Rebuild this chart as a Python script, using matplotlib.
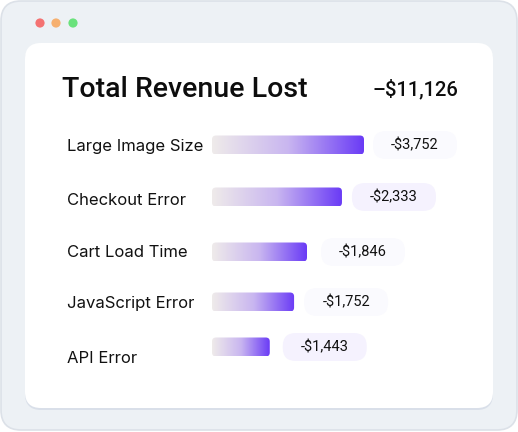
import numpy as np
import matplotlib.pyplot as plt
from matplotlib.patches import FancyBboxPatch, Circle
from matplotlib.colors import LinearSegmentedColormap

# data
categories = ['Large Image Size', 'Checkout Error', 'Cart Load Time',
              'JavaScript Error', 'API Error']
losses = [3752, 2333, 1846, 1752, 1443]
bar_share = [100, 85.5, 62.5, 54, 38]   # bar length, % of longest bar
total_lost = 11126
title = 'Total Revenue Lost'

W, H = 518, 432
fig = plt.figure(figsize=(W / 100, H / 100), dpi=100)
ax = fig.add_axes([0, 0, 1, 1])
ax.set_xlim(0, W)
ax.set_ylim(H, 0)
ax.axis('off')

# window frame
ax.add_patch(FancyBboxPatch((1, 1), W - 2, H - 3, boxstyle='round,pad=0,rounding_size=20',
                            fc='#edf1f5', ec='#dce1e8', lw=1.2))
for x, c in zip([40, 56, 73], ['#f47272', '#f6b070', '#6ae27c']):
    ax.add_patch(Circle((x, 23), 4.6, color=c, lw=0))

# card + soft shadow
ax.add_patch(FancyBboxPatch((25, 45), 468, 365, boxstyle='round,pad=0,rounding_size=16',
                            fc='#d9dfe9', ec='none'))
ax.add_patch(FancyBboxPatch((25, 43), 468, 365, boxstyle='round,pad=0,rounding_size=16',
                            fc='white', ec='none'))

ax.text(62, 97, title, fontsize=20.5, family='Roboto', weight='medium',
        va='baseline', ha='left', color='#0d0d0d')
ax.text(458, 95, f'–${total_lost:,}', fontsize=14.5, family='Roboto', weight='medium',
        va='baseline', ha='right', color='#0d0d0d')

cmap = LinearSegmentedColormap.from_list('loss', ['#efebea', '#c9b6f0', '#6a3bf6'])
grad = np.linspace(0, 1, 256).reshape(1, -1)

x0, full_len, bar_h = 212, 152, 19
label_base = [151, 205, 257, 308, 363]
bar_rows = [145, 197, 252, 302, 347]
pill_fc = ['#fafafe', '#f5f2fe', '#fafafe', '#fafafe', '#f5f2fe']
gap = [9, 10, 14, 10, 13]

for i, (cat, val, share) in enumerate(zip(categories, losses, bar_share)):
    y = bar_rows[i]
    ax.text(67, label_base[i], cat, fontsize=12, family='Inter', va='baseline', ha='left',
            color='#111111')
    length = full_len * share / 100
    patch = FancyBboxPatch((x0, y - bar_h / 2), length, bar_h,
                           boxstyle='round,pad=0,rounding_size=4', fc='none', ec='none')
    ax.add_patch(patch)
    im = ax.imshow(grad, cmap=cmap, aspect='auto', interpolation='bilinear', zorder=3,
                   extent=(x0, x0 + length, y + bar_h / 2, y - bar_h / 2))
    im.set_clip_path(patch)

    px = x0 + length + gap[i]
    ax.add_patch(FancyBboxPatch((px, y - 14), 84, 28, boxstyle='round,pad=0,rounding_size=13',
                                fc=pill_fc[i], ec='none', zorder=3))
    ax.text(px + 42, y, f'-${val:,}', fontsize=10.5, family='Roboto', va='center',
            ha='center', color='#111111', zorder=4)

ax.set_xlim(0, W)
ax.set_ylim(H, 0)
fig.savefig('out.png', dpi=100)
